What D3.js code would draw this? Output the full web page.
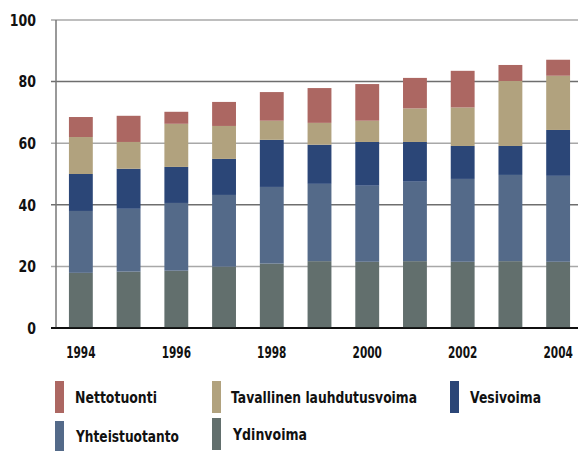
<!DOCTYPE html>
<html>
<head>
<meta charset="utf-8">
<script src="https://cdn.jsdelivr.net/npm/d3@7"></script>
<style>
  body { margin: 0; background: #fff; }
  svg text { font-family: "DejaVu Sans", sans-serif; font-weight: bold; fill: #111; }
</style>
</head>
<body>
<svg id="chart" width="578" height="451"></svg>
<script>
// vuodet
var years = [1994, 1995, 1996, 1997, 1998, 1999, 2000, 2001, 2002, 2003, 2004];
var yearLabels = ["1994", "1996", "1998", "2000", "2002", "2004"];
var yTicks = [0, 20, 40, 60, 80, 100];

// TWh, alhaalta ylos
var ydinvoima      = [17.9, 18.3, 18.6, 19.9, 20.9, 21.7, 21.5, 21.7, 21.5, 21.7, 21.5];
var yhteistuotanto = [20.1, 20.4, 22.0, 23.3, 24.9, 25.1, 24.7, 25.8, 26.9, 28.0, 27.9];
var vesivoima      = [12.0, 13.0, 11.7, 11.7, 15.3, 12.7, 14.2, 12.9, 10.7,  9.4, 14.9];
var tavallinen     = [12.0,  8.7, 14.0, 10.7,  6.2,  7.1,  6.9, 10.9, 12.5, 21.1, 17.6];
var nettotuonti    = [ 6.5,  8.5,  3.9,  7.8,  9.3, 11.3, 11.9,  9.9, 11.9,  5.2,  5.2];

var seriesNames = ["Ydinvoima", "Yhteistuotanto", "Vesivoima", "Tavallinen lauhdutusvoima", "Nettotuonti"];
var seriesValues = [ydinvoima, yhteistuotanto, vesivoima, tavallinen, nettotuonti];
var colors = {
  "Nettotuonti": "#ac6762",
  "Tavallinen lauhdutusvoima": "#b1a27e",
  "Vesivoima": "#2b4677",
  "Yhteistuotanto": "#546a89",
  "Ydinvoima": "#626f6d"
};

var svg = d3.select("#chart");

var table = years.map(function(y, i) {
  var row = { year: y };
  seriesNames.forEach(function(n, k) { row[n] = seriesValues[k][i]; });
  return row;
});

var x = d3.scaleBand().domain(years).range([57, 582]).paddingInner(0.5).paddingOuter(0.25);
var y = d3.scaleLinear().domain([0, 100]).range([328, 20]);

// ruudukko
svg.append("g").selectAll("line")
  .data(yTicks)
  .enter().append("line")
  .attr("x1", 51).attr("x2", 578)
  .attr("y1", function(d) { return y(d); })
  .attr("y2", function(d) { return y(d); })
  .attr("stroke", function(d) { return d === 0 ? "#000" : (d % 40 === 0 ? "#6e6e6e" : "#a8a8a8"); })
  .attr("stroke-width", 1.5);

svg.append("line")
  .attr("x1", 56).attr("x2", 56)
  .attr("y1", y(100)).attr("y2", y(0))
  .attr("stroke", "#777").attr("stroke-width", 1.5);

var stack = d3.stack().keys(seriesNames)(table);

svg.append("g").selectAll("g")
  .data(stack)
  .enter().append("g")
  .attr("fill", function(d) { return colors[d.key]; })
  .selectAll("rect")
  .data(function(d) { return d; })
  .enter().append("rect")
  .attr("x", function(d) { return x(d.data.year); })
  .attr("width", x.bandwidth())
  .attr("y", function(d) { return y(d[1]); })
  .attr("height", function(d) { return y(d[0]) - y(d[1]); });

// nollaviiva palkkien paalle
svg.append("line")
  .attr("x1", 51).attr("x2", 578)
  .attr("y1", y(0)).attr("y2", y(0))
  .attr("stroke", "#000").attr("stroke-width", 1.5);

// y-akselin tekstit
svg.append("g").selectAll("text")
  .data(yTicks)
  .enter().append("text")
  .attr("transform", function(d) { return "translate(36," + y(d) + ") scale(0.81,1)"; })
  .attr("dy", "0.37em")
  .attr("text-anchor", "end")
  .style("font-size", "15.5px")
  .text(function(d) { return d; });

// x-akselin tekstit
svg.append("g").selectAll("text")
  .data(yearLabels)
  .enter().append("text")
  .attr("transform", function(d) {
    return "translate(" + (x(+d) + x.bandwidth() / 2) + ",357.5) scale(0.68,1)";
  })
  .attr("text-anchor", "middle")
  .style("font-size", "15.5px")
  .text(function(d) { return d; });

// selite
var legendItems = [
  { name: "Nettotuonti", sx: 55, sy: 381, sh: 32, tx: 75, ty: 403, w: 82 },
  { name: "Tavallinen lauhdutusvoima", sx: 212, sy: 381, sh: 32, tx: 231, ty: 403, w: 186 },
  { name: "Vesivoima", sx: 450, sy: 381, sh: 32, tx: 470, ty: 403, w: 71 },
  { name: "Yhteistuotanto", sx: 55, sy: 421, sh: 32, tx: 76, ty: 442, w: 103 },
  { name: "Ydinvoima", sx: 212, sy: 418, sh: 32, tx: 233, ty: 440, w: 74 }
];

var lg = svg.append("g").selectAll("g")
  .data(legendItems)
  .enter().append("g");

lg.append("rect")
  .attr("x", function(d) { return d.sx; })
  .attr("y", function(d) { return d.sy; })
  .attr("width", 9).attr("height", function(d) { return d.sh; })
  .attr("fill", function(d) { return colors[d.name]; });

lg.append("text")
  .attr("x", function(d) { return d.tx; })
  .attr("y", function(d) { return d.ty; })
  .attr("textLength", function(d) { return d.w; })
  .attr("lengthAdjust", "spacingAndGlyphs")
  .style("font-size", "15px")
  .text(function(d) { return d.name; });
</script>
</body>
</html>
